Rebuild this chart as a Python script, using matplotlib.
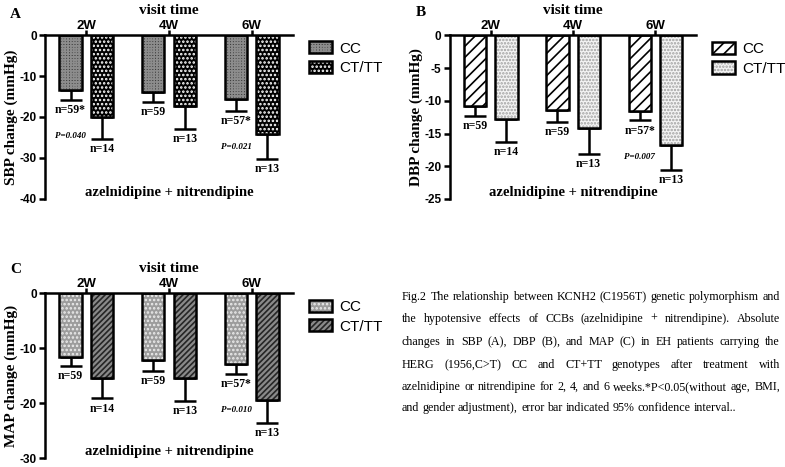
import matplotlib
matplotlib.use('Agg')
from matplotlib import pyplot as plt
from matplotlib.patches import Patch
import numpy as np

# ---- data ----
visits = ['2W', '4W', '6W']

sbp_cc = [-13.4, -13.8, -15.7]
sbp_cc_ci = [2.5, 2.5, 2.8]
sbp_tt = [-20.1, -17.3, -24.1]
sbp_tt_ci = [5.3, 5.7, 6.2]

dbp_cc = [-10.8, -11.4, -11.5]
dbp_cc_ci = [1.5, 1.8, 1.5]
dbp_tt = [-12.7, -14.2, -16.8]
dbp_tt_ci = [3.6, 3.9, 3.7]

map_cc = [-11.5, -12.1, -12.9]
map_cc_ci = [1.7, 2.0, 1.8]
map_tt = [-15.3, -15.3, -19.3]
map_tt_ci = [3.8, 4.2, 4.2]

n_cc_a = ['n=59*', 'n=59', 'n=57*']
n_cc_bc = ['n=59', 'n=59', 'n=57*']
n_tt = ['n=14', 'n=13', 'n=13']

p_a = ['P=0.040', None, 'P=0.021']
p_b = [None, None, 'P=0.007']
p_c = [None, None, 'P=0.010']

caption = [
    "Fig.2 The relationship between KCNH2 (C1956T) genetic polymorphism and",
    "the hypotensive effects of CCBs (azelnidipine + nitrendipine). Absolute",
    "changes in SBP (A), DBP (B), and MAP (C) in EH patients carrying the",
    "HERG (1956,C>T) CC and CT+TT genotypes after treatment with",
    "azelnidipine or nitrendipine for 2, 4, and 6 weeks.*P<0.05(without age, BMI,",
    "and gender adjustment), error bar indicated 95% confidence interval..",
]

SERIF = 'Liberation Serif'
SANS = 'Liberation Sans'
plt.rcParams['hatch.linewidth'] = 1.2

# (face colour, hatch colour, hatch)
styles = {
    'a_cc': ('#3c3c3c', '#8c8c8c', '++++++'),
    'a_tt': ('black', 'white', '....'),
    'b_cc': ('white', 'black', '///'),
    'b_tt': ('#f4f4f4', '#a0a0a0', '.....'),
    'c_cc': ('#9c9c9c', '#ececec', '....'),
    'c_tt': ('#8a8a8a', '#262626', '//////'),
}


def styled_bars(ax, x, vals, style):
    face, hcol, hatch = style
    ax.bar(x, vals, width=0.27, color=face, edgecolor=hcol, hatch=hatch, linewidth=0, zorder=2)
    ax.bar(x, vals, width=0.27, fill=False, edgecolor='black', linewidth=1.8, zorder=3)
    h1 = Patch(facecolor=face, edgecolor=hcol, hatch=hatch, linewidth=0)
    h2 = Patch(fill=False, edgecolor='black', linewidth=1.8)
    return (h1, h2)


def panel(ax, letter, letter_y, ylabel, cc, cc_ci, tt, tt_ci, ymin, yticks, st_cc, st_tt, n_cc, p_list):
    x = np.arange(1, len(visits) + 1)
    xc = x - 0.19
    xt = x + 0.19

    ax.errorbar(xc, cc, yerr=[cc_ci, [0] * 3], fmt='none', ecolor='black',
                elinewidth=1.8, capsize=8, capthick=1.8, zorder=1)
    ax.errorbar(xt, tt, yerr=[tt_ci, [0] * 3], fmt='none', ecolor='black',
                elinewidth=1.8, capsize=8, capthick=1.8, zorder=1)
    h_cc = styled_bars(ax, xc, cc, st_cc)
    h_tt = styled_bars(ax, xt, tt, st_tt)

    ax.set_xlim(0.5, 3.5)
    ax.set_ylim(ymin, 0)
    ax.set_yticks(yticks)
    ax.set_yticklabels([str(t) for t in yticks], fontfamily=SANS, fontweight='bold', fontsize=8.5)
    ax.xaxis.tick_top()
    ax.set_xticks(x)
    ax.set_xticklabels(visits, fontfamily=SANS, fontweight='bold', fontsize=9.5)
    ax.tick_params(axis='x', direction='out', length=3.5, width=1.8, pad=-1)
    ax.tick_params(axis='y', direction='out', length=4, width=1.8, pad=2)
    for s in ['right', 'bottom']:
        ax.spines[s].set_visible(False)
    for s in ['left', 'top']:
        ax.spines[s].set_linewidth(1.8)

    ax.set_ylabel(ylabel, fontfamily=SERIF, fontweight='bold', fontsize=11, labelpad=1)
    ax.text(0.5, 1.15, 'visit time', transform=ax.transAxes, fontfamily=SERIF,
            fontweight='bold', fontsize=11, ha='center', va='center')
    ax.text(-0.118, letter_y, letter, transform=ax.transAxes, fontfamily=SERIF,
            fontweight='bold', fontsize=11, ha='center', va='center')
    ax.text(0.5, 0.04, 'azelnidipine + nitrendipine', transform=ax.transAxes,
            fontfamily=SERIF, fontweight='bold', fontsize=10.5, ha='center', va='center')

    # n labels under the error bars, p values under the CC ones
    for i in range(len(visits)):
        ax.annotate(n_cc[i], (xc[i], cc[i] - cc_ci[i]), xytext=(0, -3), textcoords='offset points',
                    ha='center', va='top', fontfamily=SERIF, fontweight='bold', fontsize=8.5)
        ax.annotate(n_tt[i], (xt[i], tt[i] - tt_ci[i]), xytext=(0, -3), textcoords='offset points',
                    ha='center', va='top', fontfamily=SERIF, fontweight='bold', fontsize=8.5)
        if p_list[i]:
            ax.annotate(p_list[i], (xc[i], cc[i] - cc_ci[i]), xytext=(0, -26), textcoords='offset points',
                        ha='center', va='center', fontfamily=SERIF, fontweight='bold',
                        fontstyle='italic', fontsize=6.5)

    ax.legend([h_cc, h_tt], ['CC', 'CT/TT'], loc='upper left', bbox_to_anchor=(1.04, 1.0),
              frameon=False, prop={'family': SANS, 'size': 11},
              handlelength=1.5, handleheight=0.85, handletextpad=0.45, labelspacing=0.35,
              borderaxespad=0)


fig = plt.figure(figsize=(7.85, 4.67), dpi=100)
ax_a = fig.add_axes([0.0573, 0.574, 0.316, 0.351])
ax_b = fig.add_axes([0.573, 0.574, 0.314, 0.350])
ax_c = fig.add_axes([0.0573, 0.0186, 0.316, 0.353])

panel(ax_a, 'A', 1.128, 'SBP change (mmHg)', sbp_cc, sbp_cc_ci, sbp_tt, sbp_tt_ci,
      -40, [0, -10, -20, -30, -40], styles['a_cc'], styles['a_tt'], n_cc_a, p_a)
panel(ax_b, 'B', 1.138, 'DBP change (mmHg)', dbp_cc, dbp_cc_ci, dbp_tt, dbp_tt_ci,
      -25, [0, -5, -10, -15, -20, -25], styles['b_cc'], styles['b_tt'], n_cc_bc, p_b)
panel(ax_c, 'C', 1.147, 'MAP change (mmHg)', map_cc, map_cc_ci, map_tt, map_tt_ci,
      -30, [0, -10, -20, -30], styles['c_cc'], styles['c_tt'], n_cc_bc, p_c)

# caption, justified by hand; font size chosen so the last line spans ~335 px
fig.canvas.draw()
renderer = fig.canvas.get_renderer()
W, H = fig.bbox.width, fig.bbox.height
probe = fig.text(0, 0, caption[-1], fontfamily=SERIF, fontsize=10)
cap_size = 10 * 335 / probe.get_window_extent(renderer).width
probe.remove()

x0, x1 = 402 / W, 780 / W
y_lines = [297, 319, 342, 365, 387, 408]
cap_kw = dict(fontfamily=SERIF, fontsize=cap_size, va='center', ha='left')
for k, line in enumerate(caption):
    y = 1 - y_lines[k] / H
    words = line.split(' ')
    texts = [fig.text(0, y, w, **cap_kw) for w in words]
    widths = [t.get_window_extent(renderer).width / W for t in texts]
    if k < len(caption) - 1 and len(words) > 1:
        gap = ((x1 - x0) - sum(widths)) / (len(words) - 1)
    else:
        space = fig.text(0, y, 'a a', **cap_kw)
        aa = fig.text(0, y, 'aa', **cap_kw)
        gap = (space.get_window_extent(renderer).width - aa.get_window_extent(renderer).width) / W
        space.remove()
        aa.remove()
    xpos = x0
    for t, w in zip(texts, widths):
        t.set_x(xpos)
        xpos += w + gap

fig.savefig('out.png', dpi=100)
